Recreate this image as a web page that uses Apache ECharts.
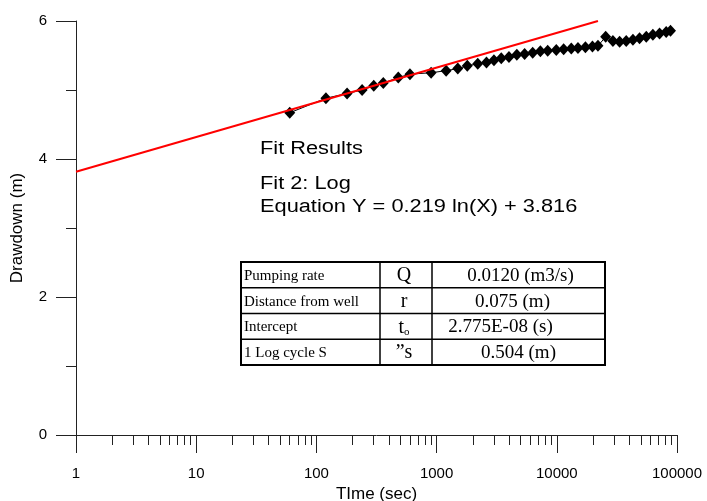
<!DOCTYPE html>
<html>
<head>
<meta charset="utf-8">
<script src="https://cdn.jsdelivr.net/npm/echarts@6/dist/echarts.min.js"></script>
<style>
  html, body { margin: 0; padding: 0; background: #fff; }
  #chart { width: 707px; height: 501px; }
</style>
</head>
<body>
<div id="chart"></div>
<script>
// measured drawdown (time in s, drawdown in m)
const timeSec = [60, 120, 180, 240, 300, 360, 480, 600, 900, 1200, 1500, 1800, 2200, 2600,
  3000, 3450, 4000, 4650, 5400, 6300, 7300, 8400, 9900, 11400, 13200, 15000, 17300, 19800, 22000,
  25500, 29300, 33300, 37800, 43000, 48800, 55500, 63000, 71600, 81300, 88300];
const drawdown = [4.67, 4.88, 4.95, 5.0, 5.06, 5.10, 5.18, 5.23, 5.25, 5.28, 5.31, 5.35, 5.38, 5.40,
  5.43, 5.46, 5.48, 5.51, 5.52, 5.54, 5.56, 5.57, 5.58, 5.59, 5.60, 5.61, 5.62, 5.63, 5.64,
  5.77, 5.71, 5.70, 5.71, 5.73, 5.75, 5.77, 5.80, 5.82, 5.84, 5.86];

// log fit Y = 0.219 ln(X) + 3.816, end points
const fitTime = [1, 22000];
const fitValue = [3.816, 6.0];

// minor ticks 2..9 of each decade, in log10 units
const minorTickPos = [];
for (let d = 0; d < 5; d++) {
  for (let k = 2; k <= 9; k++) minorTickPos.push(d + Math.log10(k));
}

const tableRows = [
  ['Pumping rate', 'Q', '0.0120 (m3/s)'],
  ['Distance from well', 'r', '0.075 (m)'],
  ['Intercept', '{s|t}{sub|o}', '2.775E-08 (s)'],
  ['1 Log cycle S', '\u201ds', '0.504 (m)']
];
const valueShift = [2, -6, -18, 0];

const chart = echarts.init(document.getElementById('chart'));

const serif = '"Liberation Serif", "Times New Roman", serif';
const sans = '"Liberation Sans", Arial, sans-serif';
const tblX = 241, tblY = 262, rowH = 25.75;
const colX = [0, 139, 191, 364];
const tableEls = [];
tableRows.forEach((row, i) => {
  const cy = tblY + rowH * i + rowH / 2 + 1;
  tableEls.push({
    type: 'text',
    style: { x: tblX + 3, y: cy, text: row[0], verticalAlign: 'middle', font: '15px ' + serif, fill: '#000' }
  });
  tableEls.push({
    type: 'text',
    style: {
      x: tblX + (colX[1] + colX[2]) / 2 - 2, y: cy, text: row[1],
      align: 'center', verticalAlign: 'middle',
      font: '20px ' + serif, fill: '#000',
      rich: {
        s: { font: '20px ' + serif },
        sub: { font: '11px ' + serif, padding: [10, 0, 0, 0] }
      }
    }
  });
  tableEls.push({
    type: 'text',
    style: {
      x: tblX + (colX[2] + colX[3]) / 2 + valueShift[i], y: cy, text: row[2],
      align: 'center', verticalAlign: 'middle',
      font: '19px ' + serif, fill: '#000'
    }
  });
  if (i > 0) {
    tableEls.push({
      type: 'line',
      shape: { x1: tblX, y1: tblY + rowH * i, x2: tblX + colX[3], y2: tblY + rowH * i },
      style: { stroke: '#000', lineWidth: 1.5 }
    });
  }
});
[1, 2].forEach((c) => {
  tableEls.push({
    type: 'line',
    shape: { x1: tblX + colX[c], y1: tblY, x2: tblX + colX[c], y2: tblY + rowH * 4 },
    style: { stroke: '#000', lineWidth: 1.5 }
  });
});
tableEls.push({
  type: 'rect',
  shape: { x: tblX, y: tblY, width: colX[3], height: rowH * 4 },
  style: { fill: null, stroke: '#000', lineWidth: 2 }
});

// fit text is drawn horizontally stretched, like the original
const fitLines = [
  ['Fit Results', 149],
  ['Fit 2: Log', 184],
  ['Equation Y = 0.219 ln(X) + 3.816', 207]
];
const fitEls = fitLines.map((l) => ({
  type: 'text', x: 260, y: l[1], scaleX: 1.21,
  style: { x: 0, y: 0, text: l[0], verticalAlign: 'middle', font: '18px ' + sans, fill: '#000' }
}));

const tickFont = { fontFamily: sans, fontSize: 15, color: '#000' };
const nameFont = { fontFamily: sans, fontSize: 17, color: '#000' };

chart.setOption({
  animation: false,
  backgroundColor: '#fff',
  grid: { left: 76, right: 30, top: 21, bottom: 66, outerBoundsMode: 'none', containLabel: false },
  xAxis: [
    {
      type: 'log', logBase: 10, min: 1, max: 100000,
      name: 'TIme (sec)', nameLocation: 'middle', nameGap: 48,
      nameTextStyle: nameFont,
      axisLine: { lineStyle: { color: '#222', width: 1 } },
      axisTick: { length: 18, lineStyle: { color: '#222' } },
      axisLabel: Object.assign({ margin: 31, formatter: (v) => String(Math.round(v)) }, tickFont),
      splitLine: { show: false },
      minorTick: { show: false }
    },
    {
      type: 'value', min: 0, max: 5, position: 'bottom',
      axisLine: { show: false },
      axisTick: { show: true, length: 10, customValues: minorTickPos, lineStyle: { color: '#222' } },
      axisLabel: { show: false },
      splitLine: { show: false }
    }
  ],
  yAxis: {
    type: 'value', min: 0, max: 6, interval: 2,
    name: 'Drawdown (m)', nameLocation: 'middle', nameGap: 50,
    nameTextStyle: nameFont,
    axisLine: { show: true, lineStyle: { color: '#222', width: 1 } },
    axisTick: { show: true, length: 20, lineStyle: { color: '#222' } },
    minorTick: { show: true, splitNumber: 2, length: 10, lineStyle: { color: '#222' } },
    axisLabel: Object.assign({ margin: 29 }, tickFont),
    splitLine: { show: false }
  },
  series: [
    {
      type: 'line',
      data: timeSec.map((t, i) => [t, drawdown[i]]),
      symbol: 'diamond', symbolSize: [11, 12],
      itemStyle: { color: '#000' },
      lineStyle: { color: '#000', width: 1 },
      z: 2
    },
    {
      type: 'line',
      data: fitTime.map((t, i) => [t, fitValue[i]]),
      showSymbol: false, symbol: 'none',
      lineStyle: { color: '#ff0000', width: 2 },
      z: 3
    }
  ],
  graphic: fitEls.concat(tableEls)
});
</script>
</body>
</html>
